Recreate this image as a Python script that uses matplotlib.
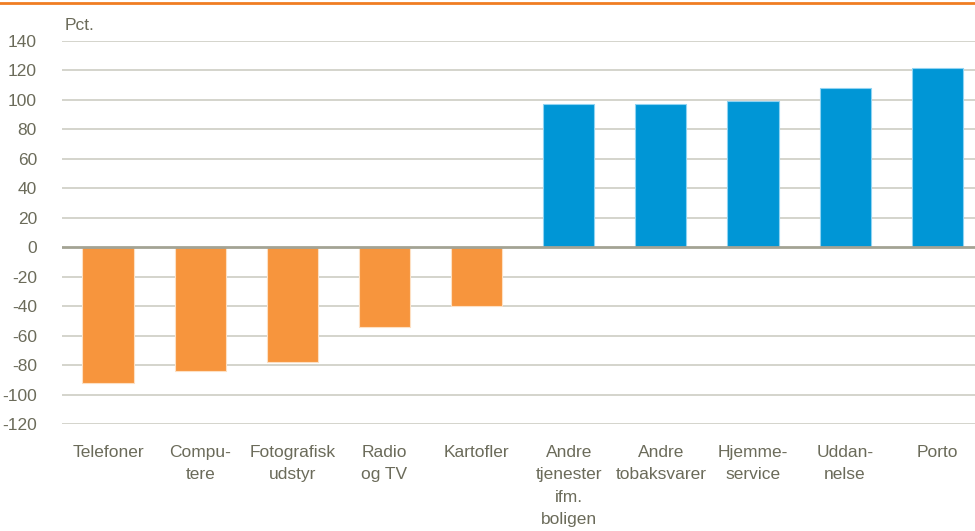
import matplotlib.pyplot as plt
from matplotlib import font_manager

# data
categories = ["Telefoner", "Compu-\ntere", "Fotografisk\nudstyr", "Radio\nog TV", "Kartofler",
              "Andre\ntjenester\nifm.\nboligen", "Andre\ntobaksvarer", "Hjemme-\nservice",
              "Uddan-\nnelse", "Porto"]
values = [-92, -84, -78, -54, -40, 97, 97, 99, 108, 122]
yticks = list(range(-120, 141, 20))

names = {f.name for f in font_manager.fontManager.ttflist}
fam = "Liberation Sans Narrow" if "Liberation Sans Narrow" in names else "Liberation Sans"
plt.rcParams['font.family'] = [fam, 'DejaVu Sans']

txt = "#6b6b5a"
orange = "#f7953d"
blue = "#0096d6"

fig = plt.figure(figsize=(9.75, 5.31), dpi=100)
ax = fig.add_axes([62 / 975, 1 - 424 / 531, (975 - 62) / 975, (424 - 41) / 531])

colors = [orange if v < 0 else blue for v in values]
edges = ["#fde0c4" if v < 0 else "#8fd3f2" for v in values]
x = list(range(len(values)))
ax.bar(x, values, width=0.555, color=colors, edgecolor=edges, linewidth=0.8, zorder=3)

ax.set_ylim(-120, 140)
ax.set_xlim(-0.5, 9.41)
ax.set_yticks(yticks)
ax.set_yticklabels([str(t) for t in yticks])
ax.set_xticks(x)
ax.set_xticklabels(categories, linespacing=1.62, va="top")

for t in yticks:
    if t == 0:
        continue
    ax.axhline(t, color="#cdcdc3", linewidth=1.2, zorder=1)
ax.axhline(0, color="#a3a394", linewidth=2, zorder=4)

for s in ax.spines.values():
    s.set_visible(False)
ax.tick_params(axis="both", length=0, labelsize=12.5, colors=txt)
ax.tick_params(axis="y", pad=18)
ax.tick_params(axis="x", pad=15)

fig.text(65 / 975, 1 - 26 / 531, "Pct.", fontsize=12.5, color=txt, va="center", ha="left")
fig.add_artist(plt.Line2D([0, 1], [1 - 3 / 531, 1 - 3 / 531], color="#f07d22", linewidth=2))

fig.savefig("out.png", dpi=100)
